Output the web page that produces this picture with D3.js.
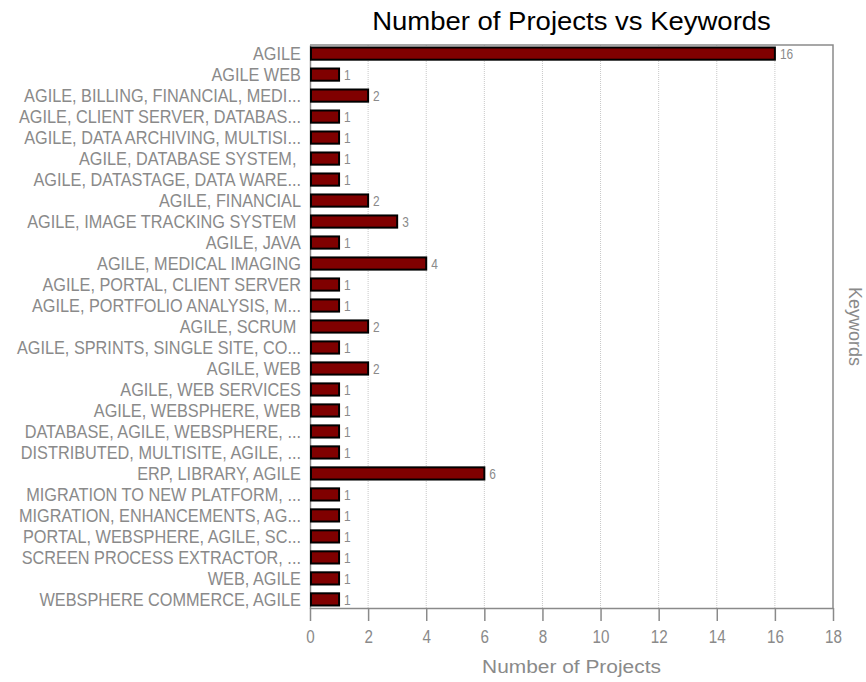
<!DOCTYPE html>
<html>
<head>
<meta charset="utf-8">
<script src="https://cdn.jsdelivr.net/npm/d3@7"></script>
<style>
  body { margin: 0; background: #fff; }
  text { font-family: "Liberation Sans", Arial, sans-serif; }
</style>
</head>
<body>
<div id="chart"></div>
<script>
// data
var keywords = [
  'AGILE', 'AGILE WEB', 'AGILE, BILLING, FINANCIAL, MEDI...', 'AGILE, CLIENT SERVER, DATABAS...',
  'AGILE, DATA ARCHIVING, MULTISI...', 'AGILE, DATABASE SYSTEM, ', 'AGILE, DATASTAGE, DATA WARE...',
  'AGILE, FINANCIAL', 'AGILE, IMAGE TRACKING SYSTEM ', 'AGILE, JAVA', 'AGILE, MEDICAL IMAGING',
  'AGILE, PORTAL, CLIENT SERVER', 'AGILE, PORTFOLIO ANALYSIS, M...', 'AGILE, SCRUM ',
  'AGILE, SPRINTS, SINGLE SITE, CO...', 'AGILE, WEB', 'AGILE, WEB SERVICES', 'AGILE, WEBSPHERE, WEB',
  'DATABASE, AGILE, WEBSPHERE, ...', 'DISTRIBUTED, MULTISITE, AGILE, ...', 'ERP, LIBRARY, AGILE',
  'MIGRATION TO NEW PLATFORM, ...', 'MIGRATION, ENHANCEMENTS, AG...', 'PORTAL, WEBSPHERE, AGILE, SC...',
  'SCREEN PROCESS EXTRACTOR, ...', 'WEB, AGILE', 'WEBSPHERE COMMERCE, AGILE'
];
var projects = [16, 1, 2, 1, 1, 1, 1, 2, 3, 1, 4, 1, 1, 2, 1, 2, 1, 1, 1, 1, 6, 1, 1, 1, 1, 1, 1];
var x_ticks = [0, 2, 4, 6, 8, 10, 12, 14, 16, 18];

var data = keywords.map(function(k, i){ return {key: k, value: projects[i]}; });

const svg_width = 866, svg_height = 682;
var margin = {top: 45, right: 33, bottom: 74, left: 310};
var width = svg_width - margin.left - margin.right,
    height = svg_height - margin.top - margin.bottom;
const grey = '#8a8a8a';

var svg = d3.select('#chart').append('svg')
  .attr('width', svg_width).attr('height', svg_height);

var x = d3.scaleLinear().domain([0, 18]).range([0, width]);
var y = d3.scaleBand().domain(keywords).range([0, height]).paddingInner(0.42).paddingOuter(0.12);

var g = svg.append('g').attr('transform', 'translate(' + margin.left + ',' + margin.top + ')');

// grid lines
g.selectAll('.grid').data(x_ticks.slice(1, -1)).enter().append('line')
  .attr('x1', d => x(d)).attr('x2', d => x(d))
  .attr('y1', 0).attr('y2', height)
  .attr('stroke', '#c8c8c8').attr('stroke-width', 1).attr('stroke-dasharray', '1,1');

// frame top + right
g.append('path').attr('fill', 'none').attr('stroke', grey).attr('stroke-width', 1.5)
  .attr('d', 'M0,0H' + width + 'V' + height);

// x axis
var xAxis = g.append('g').attr('transform', 'translate(0,' + height + ')')
  .call(d3.axisBottom(x).tickValues(x_ticks).tickSize(13).tickPadding(9).tickSizeOuter(0));
xAxis.select('.domain').attr('stroke', grey).attr('stroke-width', 1.5);
xAxis.selectAll('.tick line').attr('stroke', grey).attr('stroke-width', 1.5);
xAxis.selectAll('.tick text').attr('fill', grey).attr('font-size', 19)
  .attr('font-family', '"Liberation Sans", Arial, sans-serif')
  .attr('transform', 'scale(0.8,1)');

// y axis
var yAxis = g.append('g')
  .call(d3.axisLeft(y).tickSize(0).tickPadding(10));
yAxis.select('.domain').attr('stroke', grey).attr('stroke-width', 1.5);
yAxis.selectAll('.tick text').attr('fill', grey).attr('font-size', 18)
  .attr('font-family', '"Liberation Sans", Arial, sans-serif')
  .attr('dy', '0.38em')
  .attr('transform', 'scale(0.905,1)')
  .style('white-space', 'pre');

// bars
g.selectAll('.bar').data(data).enter().append('rect')
  .attr('x', 1)
  .attr('y', d => y(d.key))
  .attr('width', d => x(d.value) - 1)
  .attr('height', y.bandwidth())
  .attr('fill', '#800000')
  .attr('stroke', '#000').attr('stroke-width', 2);

// value labels
g.selectAll('.val').data(data).enter().append('text')
  .attr('transform', d => 'translate(' + (x(d.value) + 5) + ',' + (y(d.key) + y.bandwidth() / 2) + ') scale(0.85,1)')
  .attr('dy', '0.4em')
  .attr('fill', grey).attr('font-size', 14)
  .text(d => d.value);

// titles
svg.append('text')
  .attr('transform', 'translate(' + (margin.left + width / 2) + ',30) scale(1.1,1)')
  .attr('text-anchor', 'middle')
  .attr('font-size', 25).attr('fill', '#000')
  .text('Number of Projects vs Keywords');

svg.append('text')
  .attr('transform', 'translate(' + (margin.left + width / 2) + ',673) scale(1.1,1)')
  .attr('text-anchor', 'middle')
  .attr('font-size', 19).attr('fill', grey)
  .text('Number of Projects');

svg.append('text')
  .attr('transform', 'translate(' + 849 + ',' + (margin.top + height / 2) + ') rotate(90)')
  .attr('text-anchor', 'middle')
  .attr('font-size', 18).attr('fill', grey)
  .text('Keywords');
</script>
</body>
</html>
